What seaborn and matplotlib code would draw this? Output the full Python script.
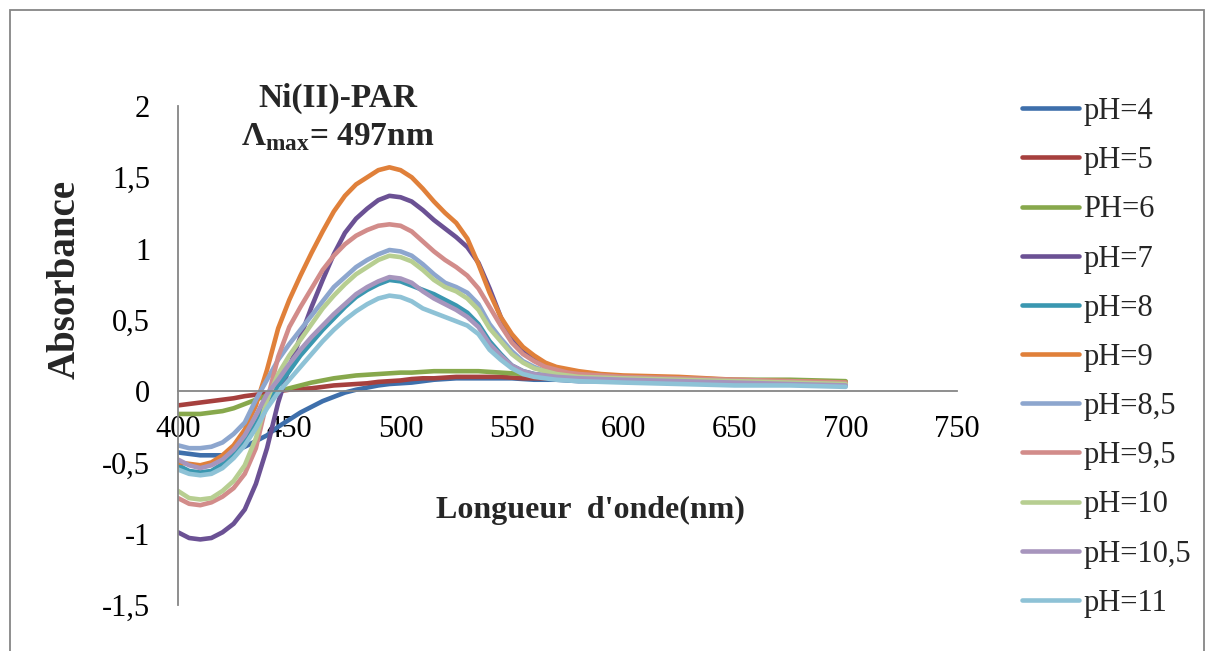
import matplotlib
matplotlib.use("Agg")
import matplotlib.pyplot as plt
import seaborn as sns
import pandas as pd
from matplotlib.patches import Rectangle

# wavelengths (nm)
wavelength = [400, 405, 410, 415, 420, 425, 430, 435, 440, 445,
              450, 455, 460, 465, 470, 475, 480, 485, 490, 495,
              500, 505, 510, 515, 520, 525, 530, 535, 540, 545,
              550, 555, 560, 565, 570, 575, 580,
              590, 600, 625, 650, 675, 700]

ph4 = [-0.43, -0.44, -0.45, -0.45, -0.45, -0.42, -0.39, -0.35, -0.31, -0.25,
       -0.20, -0.15, -0.11, -0.07, -0.04, -0.01, 0.01, 0.025, 0.04, 0.05,
       0.055, 0.06, 0.07, 0.08, 0.085, 0.09, 0.09, 0.09, 0.09, 0.09,
       0.09, 0.085, 0.08, 0.08, 0.08, 0.075, 0.07,
       0.07, 0.07, 0.06, 0.05, 0.05, 0.05]
ph5 = [-0.10, -0.09, -0.08, -0.07, -0.06, -0.05, -0.035, -0.025, -0.015, 0.0,
       0.01, 0.015, 0.02, 0.03, 0.04, 0.045, 0.05, 0.055, 0.065, 0.07,
       0.075, 0.085, 0.09, 0.09, 0.095, 0.10, 0.10, 0.10, 0.10, 0.10,
       0.095, 0.09, 0.09, 0.09, 0.085, 0.08, 0.08,
       0.08, 0.08, 0.07, 0.06, 0.06, 0.05]
ph6 = [-0.16, -0.16, -0.16, -0.15, -0.14, -0.12, -0.09, -0.06, -0.03, 0.0,
       0.02, 0.04, 0.06, 0.075, 0.09, 0.10, 0.11, 0.115, 0.12, 0.125,
       0.13, 0.13, 0.135, 0.14, 0.14, 0.14, 0.14, 0.14, 0.135, 0.13,
       0.125, 0.12, 0.115, 0.11, 0.105, 0.10, 0.10,
       0.095, 0.09, 0.09, 0.08, 0.08, 0.07]
ph7 = [-0.99, -1.03, -1.04, -1.03, -0.99, -0.93, -0.83, -0.65, -0.40, -0.08,
       0.17, 0.38, 0.59, 0.78, 0.96, 1.11, 1.21, 1.28, 1.34, 1.37,
       1.36, 1.33, 1.27, 1.20, 1.14, 1.08, 1.01, 0.90, 0.72, 0.52,
       0.36, 0.28, 0.23, 0.18, 0.16, 0.14, 0.13,
       0.11, 0.10, 0.09, 0.07, 0.06, 0.05]
ph8 = [-0.52, -0.56, -0.57, -0.56, -0.51, -0.45, -0.35, -0.23, -0.08, 0.04,
       0.14, 0.25, 0.34, 0.43, 0.51, 0.59, 0.66, 0.71, 0.75, 0.78,
       0.77, 0.74, 0.71, 0.68, 0.64, 0.60, 0.55, 0.47, 0.35, 0.26,
       0.18, 0.14, 0.12, 0.11, 0.10, 0.095, 0.09,
       0.085, 0.08, 0.07, 0.06, 0.05, 0.04]
ph9 = [-0.50, -0.51, -0.52, -0.50, -0.45, -0.38, -0.27, -0.10, 0.15, 0.44,
       0.64, 0.81, 0.97, 1.12, 1.26, 1.37, 1.45, 1.50, 1.55, 1.57,
       1.55, 1.50, 1.42, 1.33, 1.25, 1.18, 1.07, 0.89, 0.69, 0.52,
       0.40, 0.31, 0.25, 0.20, 0.17, 0.155, 0.14,
       0.12, 0.11, 0.10, 0.08, 0.07, 0.06]
ph8_5 = [-0.38, -0.40, -0.40, -0.39, -0.36, -0.30, -0.22, -0.06, 0.08, 0.22,
         0.33, 0.43, 0.53, 0.63, 0.73, 0.80, 0.87, 0.92, 0.96, 0.99,
         0.98, 0.95, 0.89, 0.82, 0.76, 0.73, 0.69, 0.61, 0.47, 0.37,
         0.28, 0.21, 0.17, 0.14, 0.13, 0.11, 0.10,
         0.095, 0.09, 0.08, 0.07, 0.06, 0.05]
ph9_5 = [-0.75, -0.79, -0.80, -0.78, -0.74, -0.68, -0.58, -0.40, -0.07, 0.24,
         0.45, 0.59, 0.72, 0.85, 0.95, 1.03, 1.09, 1.13, 1.16, 1.17,
         1.16, 1.12, 1.05, 0.98, 0.92, 0.87, 0.81, 0.72, 0.59, 0.46,
         0.34, 0.26, 0.21, 0.17, 0.15, 0.13, 0.12,
         0.11, 0.10, 0.09, 0.08, 0.07, 0.06]
ph10 = [-0.70, -0.75, -0.76, -0.75, -0.70, -0.63, -0.52, -0.33, -0.06, 0.12,
        0.25, 0.36, 0.47, 0.58, 0.67, 0.75, 0.82, 0.87, 0.92, 0.95,
        0.94, 0.91, 0.85, 0.78, 0.73, 0.70, 0.65, 0.57, 0.44, 0.35,
        0.26, 0.20, 0.16, 0.14, 0.12, 0.11, 0.10,
        0.095, 0.09, 0.08, 0.07, 0.06, 0.05]
ph10_5 = [-0.48, -0.52, -0.54, -0.52, -0.48, -0.41, -0.31, -0.17, -0.02, 0.08,
          0.19, 0.29, 0.38, 0.46, 0.54, 0.61, 0.68, 0.73, 0.77, 0.80,
          0.79, 0.76, 0.70, 0.65, 0.61, 0.57, 0.52, 0.45, 0.33, 0.25,
          0.18, 0.14, 0.12, 0.11, 0.10, 0.095, 0.09,
          0.085, 0.08, 0.07, 0.06, 0.05, 0.04]
ph11 = [-0.55, -0.58, -0.59, -0.58, -0.54, -0.47, -0.38, -0.26, -0.12, -0.01,
        0.08, 0.17, 0.26, 0.35, 0.43, 0.50, 0.56, 0.61, 0.65, 0.67,
        0.66, 0.63, 0.58, 0.55, 0.52, 0.49, 0.46, 0.40, 0.29, 0.22,
        0.16, 0.12, 0.10, 0.09, 0.08, 0.075, 0.07,
        0.065, 0.06, 0.05, 0.04, 0.04, 0.03]

labels = ["pH=4", "pH=5", "PH=6", "pH=7", "pH=8", "pH=9",
          "pH=8,5", "pH=9,5", "pH=10", "pH=10,5", "pH=11"]
colors = ["#3E6FAB", "#A6403E", "#87A84C", "#6B5194", "#3A97B0", "#E0803A",
          "#8DA6CE", "#D28C8A", "#B7CE91", "#A795BD", "#8EC2D6"]

xticks = [400, 450, 500, 550, 600, 650, 700, 750]
yticks = [-1.5, -1, -0.5, 0, 0.5, 1, 1.5, 2]
ytick_labels = ["-1,5", "-1", "-0,5", "0", "0,5", "1", "1,5", "2"]

series = [ph4, ph5, ph6, ph7, ph8, ph9, ph8_5, ph9_5, ph10, ph10_5, ph11]
df = pd.concat([pd.DataFrame({"nm": wavelength, "A": s, "serie": lab})
                for s, lab in zip(series, labels)], ignore_index=True)

sns.set_theme(style="white")
plt.rcParams["font.family"] = ["Liberation Serif", "DejaVu Serif"]
plt.rcParams["mathtext.fontset"] = "custom"
plt.rcParams["mathtext.rm"] = "Liberation Serif"
plt.rcParams["mathtext.bf"] = "Liberation Serif:bold"

W, H = 1208, 651
fig = plt.figure(figsize=(W / 100, H / 100), dpi=100)
fig.patch.set_facecolor("white")
ax = fig.add_axes([178 / W, 1 - 605 / H, (957 - 178) / W, (605 - 106) / H])

sns.lineplot(data=df, x="nm", y="A", hue="serie", hue_order=labels, palette=colors,
             sort=False, lw=3.3, legend=False, ax=ax)
lines = ax.get_lines()[:len(labels)]
for ln in lines:
    ln.set_solid_capstyle("round")
    ln.set_solid_joinstyle("round")

ax.set_xlim(400, 750)
ax.set_ylim(-1.5, 2)
ax.set_xticks(xticks)
ax.set_xticklabels([str(t) for t in xticks])
ax.set_yticks(yticks)
ax.set_yticklabels(ytick_labels)
ax.set_xlabel("")
ax.set_ylabel("")
ax.spines["top"].set_visible(False)
ax.spines["right"].set_visible(False)
ax.spines["bottom"].set_position(("data", 0))
for s in ("left", "bottom"):
    ax.spines[s].set_color("#868686")
    ax.spines[s].set_linewidth(1.3)
ax.tick_params(axis="both", length=0, labelsize=22, colors="black")
ax.tick_params(axis="x", pad=17)
ax.tick_params(axis="y", pad=20)
ax.patch.set_alpha(0)

leg = fig.legend(lines, labels, loc="upper left", bbox_to_anchor=(1022 / W, 1 - 97 / H),
                 frameon=False, fontsize=22, handlelength=1.85, handletextpad=0.15,
                 labelspacing=0.66, borderpad=0, borderaxespad=0)
for h in leg.get_lines():
    h.set_linewidth(3.3)
    h.set_solid_capstyle("round")

fig.text(338 / W, 1 - 98 / H, "Ni(II)-PAR", ha="center", va="center",
         fontsize=24, fontweight="bold")
fig.text(338 / W, 1 - 137 / H, r"Λ$_{\mathbf{max}}$= 497nm", ha="center", va="center",
         fontsize=24, fontweight="bold")
fig.text(590 / W, 1 - 510 / H, "Longueur  d'onde(nm)", ha="center", va="center",
         fontsize=23, fontweight="bold")
fig.text(65 / W, 1 - 279 / H, "Absorbance", ha="center", va="center", rotation=90,
         fontsize=28, fontweight="bold")

fig.patches.append(Rectangle((10 / W, -0.05), (1204 - 10) / W, 1.05 - 10 / H,
                             transform=fig.transFigure, fill=False,
                             ec="#868686", lw=1.3))

fig.savefig("out.png", dpi=100)
